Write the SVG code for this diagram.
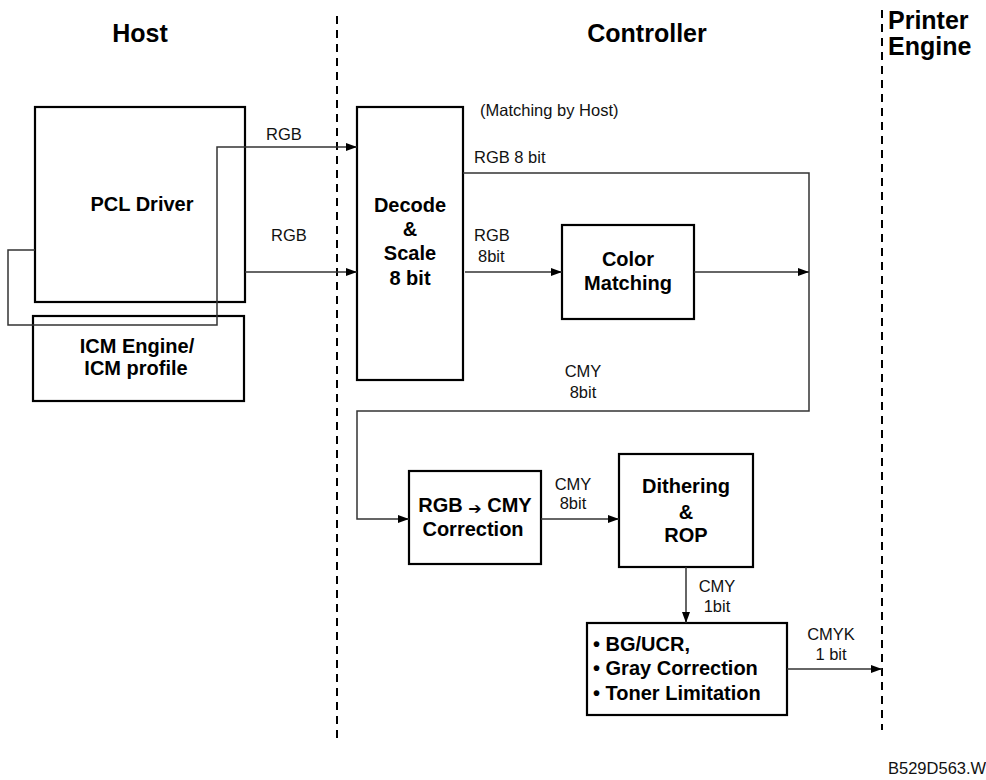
<svg xmlns="http://www.w3.org/2000/svg" width="986" height="780" viewBox="0 0 986 780">
<defs>
<style>
.box{fill:#fff;stroke:#000;stroke-width:2.2}
.hdr{font-family:"Liberation Sans",Arial,sans-serif;font-weight:bold;font-size:25px;fill:#000}
.nl{font-family:"Liberation Sans",Arial,sans-serif;font-weight:bold;font-size:20px;fill:#000;text-anchor:middle}
.bl{font-family:"Liberation Sans",Arial,sans-serif;font-weight:bold;font-size:20px;fill:#000}
.lbl{font-family:"Liberation Sans",Arial,sans-serif;font-size:16.5px;fill:#111}
.mid{text-anchor:middle}
.con{fill:none;stroke:#333;stroke-width:1.5}
.dash{fill:none;stroke:#000;stroke-width:2;stroke-dasharray:8 6}
</style>
<marker id="arr" markerUnits="userSpaceOnUse" markerWidth="11" markerHeight="8" refX="11" refY="4" orient="auto">
<path d="M0,0 L11,4 L0,8 z" fill="#000"/>
</marker>
</defs>
<rect width="986" height="780" fill="#fff"/>

<g id="dividers">
<line class="dash" x1="337" y1="16" x2="337" y2="742"/>
<line class="dash" x1="882" y1="10" x2="882" y2="730"/>
</g>

<g id="headers">
<text class="hdr" x="140" y="42" text-anchor="middle">Host</text>
<text class="hdr" x="647" y="42" text-anchor="middle">Controller</text>
<text class="hdr" x="888" y="29" font-size="22.5px">Printer</text>
<text class="hdr" x="888" y="55" font-size="22.5px">Engine</text>
</g>

<g id="pcl-driver">
<rect class="box" x="35" y="107" width="210" height="195"/>
<text class="nl" x="142" y="211">PCL Driver</text>
</g>

<g id="icm-engine">
<rect class="box" x="33" y="316" width="211" height="85"/>
<text class="nl" x="137" y="353">ICM Engine/</text>
<text class="nl" x="136" y="375">ICM profile</text>
</g>

<g id="decode-scale">
<rect class="box" x="357" y="107" width="106" height="273"/>
<text class="nl" x="410" y="212">Decode</text>
<text class="nl" x="410" y="236">&amp;</text>
<text class="nl" x="410" y="260">Scale</text>
<text class="nl" x="410" y="285">8 bit</text>
</g>

<g id="color-matching">
<rect class="box" x="562" y="225" width="132" height="94"/>
<text class="nl" x="628" y="266">Color</text>
<text class="nl" x="628" y="290">Matching</text>
</g>

<g id="rgb-cmy-correction">
<rect class="box" x="409" y="471" width="132" height="93"/>
<text class="nl" x="475" y="512">RGB <tspan font-family="'DejaVu Sans',sans-serif" font-size="16px" dy="2">➔</tspan><tspan dy="-2"> CMY</tspan></text>
<text class="nl" x="473" y="536">Correction</text>
</g>

<g id="dithering-rop">
<rect class="box" x="619" y="454" width="134" height="113"/>
<text class="nl" x="686" y="493">Dithering</text>
<text class="nl" x="686" y="519">&amp;</text>
<text class="nl" x="686" y="542">ROP</text>
</g>

<g id="bg-ucr">
<rect class="box" x="587" y="623" width="200" height="92"/>
<text class="bl" x="593" y="651">• BG/UCR,</text>
<text class="bl" x="593" y="675">• Gray Correction</text>
<text class="bl" x="593" y="700">• Toner Limitation</text>
</g>

<g id="connectors">
<path class="con" d="M35 250 H8 V325 H217 V147 H357" marker-end="url(#arr)"/>
<path class="con" d="M245 272 H357" marker-end="url(#arr)"/>
<path class="con" d="M463 173 H809 V411 H357 V519 H409" marker-end="url(#arr)"/>
<path class="con" d="M465 272 H562" marker-end="url(#arr)"/>
<path class="con" d="M694 272 H809" marker-end="url(#arr)"/>
<path class="con" d="M541 519 H619" marker-end="url(#arr)"/>
<path class="con" d="M686 567 V623" marker-end="url(#arr)"/>
<path class="con" d="M787 669 H882" marker-end="url(#arr)"/>
</g>

<g id="labels">
<text class="lbl" x="266" y="140">RGB</text>
<text class="lbl" x="271" y="241">RGB</text>
<text class="lbl" x="480" y="116">(Matching by Host)</text>
<text class="lbl" x="474" y="163">RGB 8 bit</text>
<text class="lbl" x="474" y="241">RGB</text>
<text class="lbl" x="478" y="262">8bit</text>
<text class="lbl mid" x="583" y="377">CMY</text>
<text class="lbl mid" x="583" y="398">8bit</text>
<text class="lbl mid" x="573" y="490">CMY</text>
<text class="lbl mid" x="573" y="509">8bit</text>
<text class="lbl mid" x="717" y="592">CMY</text>
<text class="lbl mid" x="717" y="612">1bit</text>
<text class="lbl mid" x="831" y="640">CMYK</text>
<text class="lbl mid" x="831" y="660">1 bit</text>
<text class="lbl" x="888" y="774" font-size="14.5px">B529D563.W</text>
</g>
</svg>
